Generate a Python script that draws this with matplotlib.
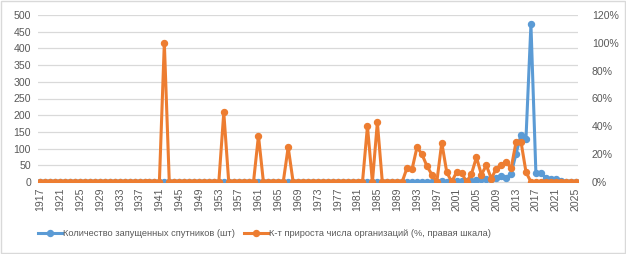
import matplotlib
matplotlib.use("Agg")
import matplotlib.pyplot as plt
from matplotlib.ticker import FuncFormatter, MultipleLocator
from matplotlib.patches import Rectangle

plt.rcParams['font.family'] = ['Liberation Sans', 'DejaVu Sans']

years = list(range(1917, 2026))

satellites = [
    0, 0, 0, 0, 0, 0, 0, 0, 0, 0,          # 1917-1926
    0, 0, 0, 0, 0, 0, 0, 0, 0, 0,          # 1927-1936
    0, 0, 0, 0, 0, 0, 0, 0, 0, 0,          # 1937-1946
    0, 0, 0, 0, 0, 0, 0, 0, 0, 0,          # 1947-1956
    0, 0, 0, 0, 0, 0, 0, 0, 0, 0,          # 1957-1966
    0, 0, 0, 0, 0, 0, 0, 0, 0, 0,          # 1967-1976
    0, 0, 0, 0, 0, 0, 0, 0, 0, 0,          # 1977-1986
    0, 0, 0, 0, 0, 0, 0, 0, 0, 0,          # 1987-1996
    0, 2, 0, 4, 2, 3, 2, 2, 5, 10,         # 1997-2006
    8, 8, 12, 18, 12, 25, 85, 142, 130, 472,  # 2007-2016
    27, 28, 12, 10, 8, 4, 0, 0, 0,         # 2017-2025
]

growth_pct = [
    0, 0, 0, 0, 0, 0, 0, 0, 0, 0,          # 1917-1926
    0, 0, 0, 0, 0, 0, 0, 0, 0, 0,          # 1927-1936
    0, 0, 0, 0, 0, 100, 0, 0, 0, 0,        # 1937-1946
    0, 0, 0, 0, 0, 0, 0, 50, 0, 0,         # 1947-1956
    0, 0, 0, 0, 33.3, 0, 0, 0, 0, 0,       # 1957-1966
    25, 0, 0, 0, 0, 0, 0, 0, 0, 0,         # 1967-1976
    0, 0, 0, 0, 0, 0, 40, 0, 42.9, 0,      # 1977-1986
    0, 0, 0, 0, 10.3, 9.1, 25, 20, 11.5, 5.3,   # 1987-1996
    0, 28.3, 7.2, 0, 7.2, 6.7, 0, 5.8, 17.8, 5.3,  # 1997-2006
    12, 2.4, 9.6, 12.5, 14.4, 9.8, 28.8, 28.8, 7.2, 0,  # 2007-2016
    0, 0, 0, 0, 0, 0, 0, 0, 0,             # 2017-2025
]

label_sat = "Количество запущенных спутников (шт)"
label_growth = "К-т прироста числа организаций (%, правая шкала)"

blue = "#5B9BD5"
orange = "#ED7D31"
grid_c = "#D9D9D9"
text_c = "#595959"

fig = plt.figure(figsize=(6.26, 2.54), dpi=100)
fig.patches.append(Rectangle((0.0015, 0.003), 0.997, 0.994, transform=fig.transFigure,
                             fill=False, edgecolor=grid_c, linewidth=1.0))
ax = fig.add_axes([38/626, 1 - 182/254, 540/626, 167/254])
ax2 = ax.twinx()

x = list(range(len(years)))
ax.plot(x, satellites, color=blue, lw=2.2, marker='o', ms=4.3, label=label_sat, zorder=3)
ax2.plot(x, growth_pct, color=orange, lw=2.2, marker='o', ms=4.3, label=label_growth, zorder=3)

ax.set_xlim(-0.5, len(years) - 0.5)
ax.set_ylim(0, 500)
ax2.set_ylim(0, 120)
ax.yaxis.set_major_locator(MultipleLocator(50))
ax2.yaxis.set_major_locator(MultipleLocator(20))
ax2.yaxis.set_major_formatter(FuncFormatter(lambda v, p: f"{int(v)}%"))

ax.grid(axis='y', color=grid_c, lw=0.9)
ax.set_axisbelow(True)
for a in (ax, ax2):
    for s in a.spines.values():
        s.set_visible(False)
ax.spines['bottom'].set_visible(True)
ax.spines['bottom'].set_color(grid_c)

tick_idx = list(range(0, len(years), 4))
ax.set_xticks(tick_idx)
ax.set_xticklabels([str(years[i]) for i in tick_idx], rotation=90)
ax.tick_params(axis='x', length=0, colors=text_c, labelsize=7.6, pad=4)
ax.tick_params(axis='y', length=0, colors=text_c, labelsize=7.6, pad=5)
ax2.tick_params(axis='y', length=0, colors=text_c, labelsize=7.6, pad=10)

h1, l1 = ax.get_legend_handles_labels()
h2, l2 = ax2.get_legend_handles_labels()
fig.legend(h1 + h2, l1 + l2, loc='center', bbox_to_anchor=(0.422, 1 - 234/254), ncol=2,
           frameon=False, fontsize=6.7, labelcolor=text_c, handlelength=2.6,
           handletextpad=0.1, columnspacing=1.0)

fig.savefig("out.png", dpi=100)
